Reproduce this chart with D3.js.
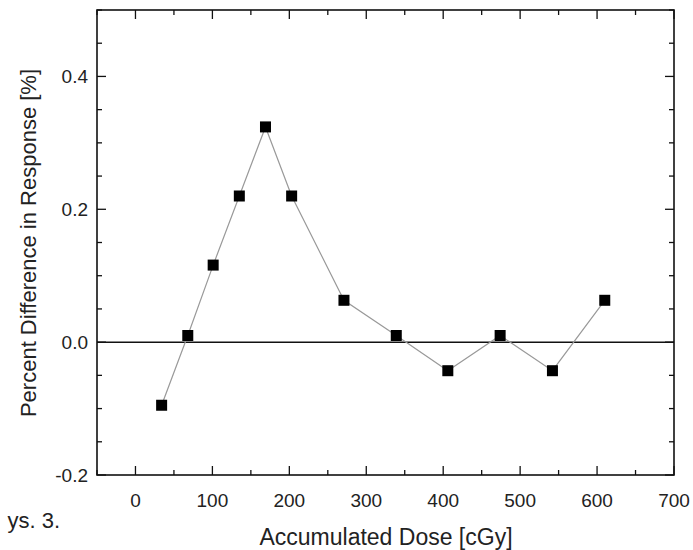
<!DOCTYPE html>
<html>
<head>
<meta charset="utf-8">
<script src="https://cdn.jsdelivr.net/npm/d3@7"></script>
<style>
  body { margin: 0; background: #fff; }
  text { font-family: "Liberation Sans", Arial, sans-serif; fill: #222; }
</style>
</head>
<body>
<svg id="chart" width="693" height="550"></svg>
<script>
// accumulated dose [cGy] and percent difference in response [%]
const dose = [34, 68, 101, 135, 169, 203, 271, 339, 406, 474, 542, 610];
const diff = [-0.095, 0.010, 0.116, 0.220, 0.324, 0.220, 0.063, 0.010, -0.043, 0.010, -0.043, 0.063];
const xTicks = [0, 100, 200, 300, 400, 500, 600, 700];
const yTicks = [-0.2, 0.0, 0.2, 0.4];

const svg = d3.select('#chart');
const plotL = 97, plotR = 674, plotT = 10, plotB = 475;

const x = d3.scaleLinear().domain([-50, 700]).range([plotL, plotR]);
const y = d3.scaleLinear().domain([-0.2, 0.5]).range([plotB, plotT]);

const xMinor = d3.range(-50, 701, 50);
const yMinor = d3.range(-0.2, 0.501, 0.05);

// ticks pointing inward on all four sides
const tickG = svg.append('g').attr('stroke', '#111').attr('stroke-width', 1.3);
xMinor.forEach((v) => {
  const len = Math.abs(v % 100) < 1e-6 ? 9 : 5;
  tickG.append('line').attr('x1', x(v)).attr('x2', x(v)).attr('y1', plotB).attr('y2', plotB - len);
  tickG.append('line').attr('x1', x(v)).attr('x2', x(v)).attr('y1', plotT).attr('y2', plotT + len);
});
yMinor.forEach((v) => {
  const k = Math.round(v * 20);
  const len = k % 4 === 0 ? 9 : 5;
  tickG.append('line').attr('x1', plotL).attr('x2', plotL + len).attr('y1', y(v)).attr('y2', y(v));
  tickG.append('line').attr('x1', plotR).attr('x2', plotR - len).attr('y1', y(v)).attr('y2', y(v));
});

// tick labels
svg.append('g').selectAll('text').data(xTicks).enter().append('text')
  .attr('x', (d) => x(d)).attr('y', 507)
  .attr('text-anchor', 'middle').attr('font-size', 19)
  .text((d) => d);
svg.append('g').selectAll('text').data(yTicks).enter().append('text')
  .attr('x', 88).attr('y', (d) => y(d) + 7)
  .attr('text-anchor', 'end').attr('font-size', 19)
  .text((d) => d3.format('.1f')(d).replace('\u2212', '-'));

// frame
svg.append('rect')
  .attr('x', plotL).attr('y', plotT).attr('width', plotR - plotL).attr('height', plotB - plotT)
  .attr('fill', 'none').attr('stroke', '#111').attr('stroke-width', 1.6);

// zero line
svg.append('line')
  .attr('x1', plotL).attr('x2', plotR).attr('y1', y(0)).attr('y2', y(0))
  .attr('stroke', '#111').attr('stroke-width', 1.5);

const pts = dose.map((d, i) => ({ d, v: diff[i] }));

const line = d3.line().x((p) => x(p.d)).y((p) => y(p.v));
svg.append('path')
  .datum(pts)
  .attr('d', line)
  .attr('fill', 'none')
  .attr('stroke', '#999')
  .attr('stroke-width', 1.2);

const s = 11;
svg.append('g').selectAll('rect').data(pts).enter().append('rect')
  .attr('x', (p) => x(p.d) - s / 2)
  .attr('y', (p) => y(p.v) - s / 2)
  .attr('width', s).attr('height', s)
  .attr('fill', '#000');

// axis titles
svg.append('text')
  .attr('x', 386).attr('y', 545)
  .attr('text-anchor', 'middle').attr('font-size', 23)
  .text('Accumulated Dose [cGy]');
svg.append('text')
  .attr('transform', 'translate(36,243) rotate(-90)')
  .attr('text-anchor', 'middle').attr('font-size', 22)
  .text('Percent Difference in Response [%]');

svg.append('text')
  .attr('x', 60).attr('y', 528)
  .attr('text-anchor', 'end').attr('font-size', 22)
  .text('ys. 3.');
</script>
</body>
</html>
